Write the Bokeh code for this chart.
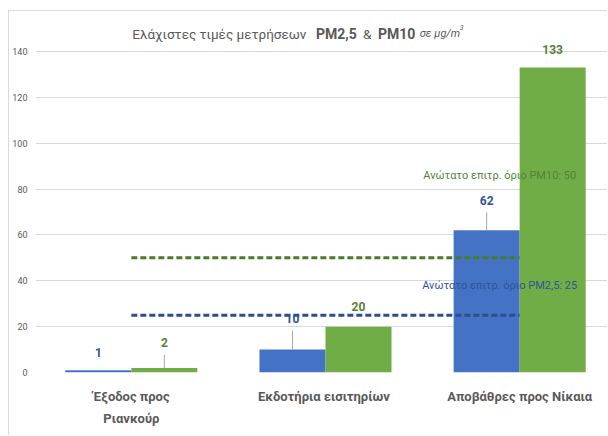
from bokeh.plotting import figure
from bokeh.models import Range1d, FixedTicker, Label, ColumnDataSource
from bokeh.core.properties import value
from bokeh.embed import file_html
from bokeh.resources import INLINE

# ---- data ----
categories = ["Έξοδος προς\nΡιανκούρ", "Εκδοτήρια  εισιτηρίων", "Αποβάθρες προς Νίκαια"]
pm25 = [1, 10, 62]
pm10 = [2, 20, 133]
limit_pm25 = 25
limit_pm10 = 50
y_ticks = [0, 20, 40, 60, 80, 100, 120, 140]

# ---- layout / style ----
FONT = "Roboto"
BLUE = "#4472C4"
GREEN = "#70AD47"
BLUE_TXT = "#2F5597"
GREEN_TXT = "#548235"
W, H = 599, 425
BAR_W = 0.34
# label y positions (layout, in data units)
lab_y25 = [8.7, 23.5, 75.0]
lab_y10 = [13.0, 28.8, 140.9]
lead25 = [False, True, True]
lead10 = [True, False, False]
LEAD_GAP = 5.2

p = figure(width=W, height=H, output_backend="svg", toolbar_location=None,
           x_range=Range1d(-0.4936, 2.4576), y_range=Range1d(0, 157.0),
           min_border_left=25, min_border_right=0, min_border_top=1,
           min_border_bottom=64)
p.styles = {"margin-left": "8px", "margin-top": "10px",
            "border-left": "1px solid #d9d9d9", "border-top": "1px solid #d9d9d9"}
p.outline_line_color = None
p.background_fill_color = "white"
p.border_fill_color = "white"

p.xgrid.visible = False
p.ygrid.grid_line_color = "#d9d9d9"
p.ygrid.grid_line_width = 1

p.yaxis.ticker = FixedTicker(ticks=y_ticks)
p.yaxis.axis_line_color = None
p.yaxis.major_tick_line_color = None
p.yaxis.minor_tick_line_color = None
p.yaxis.major_tick_out = 0
p.yaxis.major_tick_in = 0
p.yaxis.minor_tick_out = 0
p.yaxis.major_label_text_font = FONT
p.yaxis.major_label_text_font_size = "9px"
p.yaxis.major_label_text_color = "#595959"
p.yaxis.major_label_standoff = 8

p.xaxis.ticker = FixedTicker(ticks=[0, 1, 2])
p.xaxis.major_label_overrides = {i: c for i, c in enumerate(categories)}
p.xaxis.axis_line_color = None
p.xaxis.major_tick_line_color = None
p.xaxis.minor_tick_line_color = None
p.xaxis.major_tick_out = 0
p.xaxis.major_tick_in = 0
p.xaxis.minor_tick_out = 0
p.xaxis.major_label_text_font = FONT
p.xaxis.major_label_text_font_size = "13px"
p.xaxis.major_label_text_font_style = "bold"
p.xaxis.major_label_text_color = "#595959"
p.xaxis.major_label_standoff = 16
p.xaxis.major_label_text_line_height = 1.5

xs = list(range(len(categories)))
src = ColumnDataSource(dict(
    xb=[x - BAR_W / 2 for x in xs], xg=[x + BAR_W / 2 for x in xs],
    pm25=pm25, pm10=pm10,
    t25=[str(v) for v in pm25], t10=[str(v) for v in pm10],
    ly25=lab_y25, ly10=lab_y10,
))

p.vbar(x="xb", top="pm25", width=BAR_W, bottom=0, source=src,
       fill_color=BLUE, line_color=None)
p.vbar(x="xg", top="pm10", width=BAR_W, bottom=0, source=src,
       fill_color=GREEN, line_color=None)

# leader lines
lx, ly0, ly1 = [], [], []
for i in xs:
    if lead25[i]:
        lx.append(i - BAR_W / 2); ly0.append(pm25[i]); ly1.append(lab_y25[i] - LEAD_GAP)
    if lead10[i]:
        lx.append(i + BAR_W / 2); ly0.append(pm10[i]); ly1.append(lab_y10[i] - LEAD_GAP)
p.segment(x0=lx, y0=ly0, x1=lx, y1=ly1, line_color="#a6a6a6", line_width=1)

p.text(x="xb", y="ly25", text="t25", source=src, text_align="center",
       text_baseline="middle", text_font=value(FONT), text_font_size="12px",
       text_font_style="bold", text_color=BLUE_TXT)
p.text(x="xg", y="ly10", text="t10", source=src, text_align="center",
       text_baseline="middle", text_font=value(FONT), text_font_size="12px",
       text_font_style="bold", text_color=GREEN_TXT)

# limit lines
p.line(x=[0, 2], y=[limit_pm10, limit_pm10], line_color="#4a7a2c",
       line_width=3, line_dash="6 3")
p.line(x=[0, 2], y=[limit_pm25, limit_pm25], line_color="#2a4f8f",
       line_width=3, line_dash="6 3")

p.add_layout(Label(x=1.897, y=85.9, text=f"Ανώτατο επιτρ. όριο PM10: {limit_pm10}",
                   text_align="center", text_baseline="middle", text_font=FONT,
                   text_font_size="11px", text_color=GREEN_TXT))
p.add_layout(Label(x=1.897, y=37.9, text=f"Ανώτατο επιτρ. όριο PM2,5: {limit_pm25}",
                   text_align="center", text_baseline="middle", text_font=FONT,
                   text_font_size="11px", text_color=BLUE_TXT))

# title pieces (page px -> data)
def dx(px):
    return (px - 130) / 194.5

def dy(py):
    return (372 - py) / 2.293

title_parts = [
    ("Ελάχιστες τιμές μετρήσεων", 131, 33, "normal", "13.5px"),
    ("PM2,5", 315, 33, "bold", "14px"),
    ("&", 362, 33, "normal", "13.5px"),
    ("PM10", 377, 33, "bold", "14px"),
    ("σε μg/m", 419, 33, "italic", "11px"),
    ("3", 459, 27, "italic", "7px"),
]
for txt, px, py, style, size in title_parts:
    p.add_layout(Label(x=dx(px), y=dy(py), text=txt, text_align="left",
                       text_baseline="alphabetic", text_font=FONT,
                       text_font_size=size, text_font_style=style,
                       text_color="#595959"))

open("out.html", "w").write(file_html(p, INLINE))
